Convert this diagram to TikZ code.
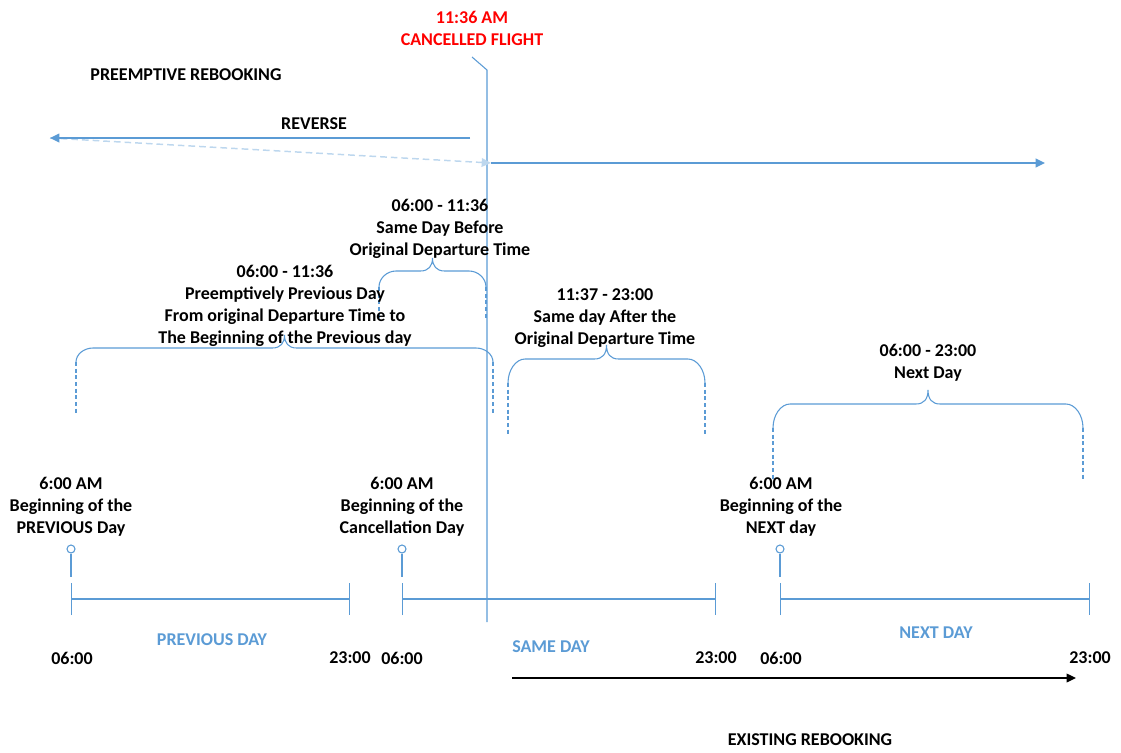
\documentclass[tikz,border=0pt]{standalone}
\usepackage{fontspec}
\setmainfont{Carlito}
\usetikzlibrary{arrows, arrows.meta, positioning}

\definecolor{lineblue}{HTML}{5B9BD5}
\definecolor{paleblue}{HTML}{BDD7EE}
\definecolor{flightred}{HTML}{FF0000}

% brace over a time range: left x, right x, flat y, tip y, corner y, dash end y
\newcommand{\rangebrace}[6]{%
  \draw [bracket] (#1,#5) .. controls (#1,{#3+0.45*(#5-#3)}) and ({#1+8},#3) .. ({#1+17},#3)
    -- ({(#1+#2)/2-12},#3) .. controls ({(#1+#2)/2-4},#3) and ({(#1+#2)/2},{#3-5}) .. ({(#1+#2)/2},#4)
    .. controls ({(#1+#2)/2},{#3-5}) and ({(#1+#2)/2+4},#3) .. ({(#1+#2)/2+12},#3)
    -- ({#2-17},#3) .. controls ({#2-8},#3) and (#2,{#3+0.45*(#5-#3)}) .. (#2,#5);
  \draw [bracketdash] (#1,#5) -- (#1,#6) (#2,#5) -- (#2,#6);}

\begin{document}
\begin{tikzpicture}[x=0.75pt, y=-0.75pt, font=\fontsize{13.5}{16.5}\selectfont\bfseries]
% Define styles
\tikzstyle{txt} = [align=center, inner sep=0pt, text=black]
\tikzstyle{daytxt} = [txt, text=lineblue]
\tikzstyle{redtxt} = [txt, text=flightred]
\tikzstyle{tl} = [lineblue, line width=0.9pt]
\tikzstyle{span} = [tl, {Bar[width=24pt]}-{Bar[width=24pt]}]
\tikzstyle{pin} = [circle, draw=lineblue, fill=white, minimum size=6pt, inner sep=0pt, line width=0.8pt]
\tikzstyle{flightline} = [lineblue, line width=0.8pt]
\tikzstyle{arrow} = [lineblue, line width=1.1pt, -{Triangle[length=7pt,width=6.5pt]}]
\tikzstyle{ghostarrow} = [paleblue, line width=1.1pt, dash pattern=on 5pt off 3pt, -{Triangle[length=7pt,width=6.5pt]}]
\tikzstyle{bracket} = [lineblue, line width=0.8pt]
\tikzstyle{bracketdash} = [bracket, dash pattern=on 3pt off 2pt]
\tikzstyle{blackarrow} = [black, line width=1pt, -{Triangle[length=7pt,width=6.5pt]}]

\useasboundingbox (0,0) rectangle (1121,753);

% Cancelled flight
\node (cancel) [redtxt] at (472,28) {11:36 AM\\CANCELLED FLIGHT};
\coordinate (flighttop) at (472,57);
\coordinate (flightbend) at (487,70);
\coordinate (flightfoot) at (487,622);
\draw [flightline] (flighttop) -- (flightbend) -- (flightfoot);

% Preemptive rebooking
\node (preempt) [txt] at (186,75) {PREEMPTIVE REBOOKING};
\node (reverse) [txt] at (314,124) {REVERSE};
\coordinate (revstart) at (470,138);
\coordinate (revend) at (50,138);
\coordinate (fwdstart) at (491,163);
\coordinate (fwdend) at (1045,163);
\draw [ghostarrow] (revend) -- (fwdstart);
\draw [arrow] (revstart) -- (revend);
\draw [arrow] (fwdstart) -- (fwdend);

% Ranges
\node (samebefore) [txt] at (440,229) {06:00 - 11:36\\Same Day Before\\Original Departure Time};
\rangebrace{379}{486}{271}{258}{287}{318}
\node (prevrange) [txt] at (285,306) {06:00 - 11:36\\Preemptively Previous Day\\From original Departure Time to\\The Beginning of the Previous day};
\rangebrace{76}{493}{348}{335}{362}{413}
\node (sameafter) [txt] at (605,318) {11:37 - 23:00\\Same day After the\\Original Departure Time};
\rangebrace{508}{705}{359}{345}{383}{435}
\node (nextrange) [txt] at (928,363) {06:00 - 23:00\\Next Day};
\rangebrace{773}{1083}{404}{390}{428}{480}

% Day markers
\node (prevlbl) [txt] at (71,507) {6:00 AM\\Beginning of the\\PREVIOUS Day};
\node (samelbl) [txt] at (402,507) {6:00 AM\\Beginning of the\\Cancellation Day};
\node (nextlbl) [txt] at (781,507) {6:00 AM\\Beginning of the\\NEXT day};
\node (prevpin) [pin] at (71,549) {};
\node (samepin) [pin] at (402,549) {};
\node (nextpin) [pin] at (780,549) {};
\draw [tl] (prevpin) -- ++(0,28);
\draw [tl] (samepin) -- ++(0,28);
\draw [tl] (nextpin) -- ++(0,28);

% Timelines
\coordinate (prevstart) at (71,599);
\coordinate (prevend) at (350,599);
\coordinate (samestart) at (402,599);
\coordinate (sameend) at (716,599);
\coordinate (nextstart) at (780,599);
\coordinate (nextend) at (1090,599);
\draw [span] (prevstart) -- (prevend);
\draw [span] (samestart) -- (sameend);
\draw [span] (nextstart) -- (nextend);

\node (prevname) [daytxt] at (212,640) {PREVIOUS DAY};
\node (samename) [daytxt] at (551,647) {SAME DAY};
\node (nextname) [daytxt] at (936,633) {NEXT DAY};

\node (prevsix) [txt] at (72,658) {06:00};
\node (prevtwentythree) [txt] at (350,658) {23:00};
\node (samesix) [txt] at (402,658) {06:00};
\node (sametwentythree) [txt] at (716,658) {23:00};
\node (nextsix) [txt] at (781,658) {06:00};
\node (nexttwentythree) [txt] at (1090,658) {23:00};

% Existing rebooking
\coordinate (existstart) at (512,678);
\coordinate (existend) at (1076,678);
\draw [blackarrow] (existstart) -- (existend);
\node (existing) [txt] at (810,740) {EXISTING REBOOKING};
\end{tikzpicture}
\end{document}
